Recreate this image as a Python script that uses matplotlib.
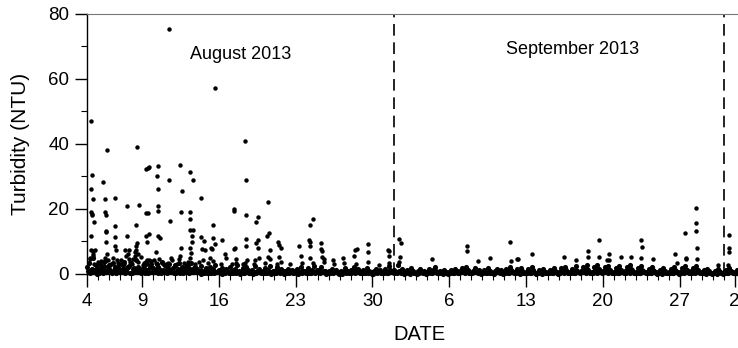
import numpy as np
from matplotlib import pyplot as plt

plt.rcParams['font.family'] = ['Liberation Sans', 'DejaVu Sans']

############################################
################  Data  ####################
############################################
# day offsets are counted from 4 August 2013 00:00

# larger readings (day offset, NTU)
peak_day = [0.40, 0.45, 0.38, 0.55, 0.38, 0.45, 0.48, 0.60, 0.38, 0.40, 0.55, 0.70, 0.30, 0.50,
            1.78, 1.48, 1.67, 1.67, 1.72, 1.75, 1.70, 1.72, 1.62, 1.78,
            2.54, 2.54, 2.57, 2.57, 2.60, 2.70,
            3.60, 3.60, 3.48, 3.80, 3.55, 3.85,
            4.55, 4.75, 4.50, 4.45, 4.55, 4.40, 4.65, 4.50,
            5.40, 5.58, 5.65, 5.35, 5.58, 5.35, 5.62, 5.42, 5.60, 5.50,
            6.46, 6.40, 6.46, 6.44, 6.48, 6.46, 6.62, 6.30,
            7.43, 7.50, 7.52, 7.60, 7.40,
            8.42, 8.66, 8.58, 8.60, 8.35,
            9.36, 9.66, 9.42, 9.42, 9.36, 9.66, 9.60, 9.60, 9.38, 9.36,
            10.40, 10.38, 10.68, 10.48, 10.70,
            11.20, 11.45, 11.45, 11.62, 11.25, 11.35, 11.68,
            12.30, 12.65,
            13.40, 13.40, 13.38, 13.45, 13.55,
            14.37, 14.52, 14.52, 14.52, 14.52, 14.37,
            15.40, 15.60, 15.35, 15.58, 15.60, 15.30,
            16.45, 16.35, 16.60, 16.65, 16.45,
            17.35, 17.45, 17.65, 17.50,
            19.30, 19.48,
            20.26, 20.35, 20.35, 20.35, 20.55, 20.35,
            21.30, 21.30, 21.37, 21.37, 21.55,
            22.40, 23.30,
            24.45, 24.60, 24.35,
            25.60, 25.57,
            27.55, 27.40, 27.55,
            28.45, 28.60, 28.50,
            31.45, 34.60, 34.60, 35.60, 36.75,
            38.50, 38.60, 39.30, 39.20,
            40.50, 43.45, 44.55,
            45.65, 45.65, 46.65, 46.60,
            47.55, 47.55, 47.40, 48.65, 49.55,
            50.45, 50.55, 50.45, 51.55,
            53.60, 53.75,
            54.50, 54.55, 54.55,
            55.50, 55.50, 55.45, 55.60, 55.60,
            57.50,
            58.45, 58.45, 58.45, 58.35]
peak_val = [46.9, 30.4, 26.2, 23.1, 19.0, 18.5, 18.0, 16.0, 11.7, 7.2, 7.0, 7.3, 5.0, 6.0,
            38.2, 28.4, 23.0, 19.0, 18.0, 12.9, 13.1, 9.8, 5.0, 6.0,
            23.4, 14.8, 11.5, 8.5, 7.5, 4.2,
            20.8, 11.6, 7.5, 7.5, 5.5, 4.5,
            38.9, 21.1, 15.0, 8.5, 9.6, 5.5, 6.0, 7.5,
            32.3, 32.6, 32.8, 18.6, 18.6, 11.7, 12.2, 4.4, 4.4, 9.7,
            33.1, 30.2, 26.2, 20.9, 19.4, 11.7, 10.9, 6.6,
            75.3, 29.0, 16.3, 5.0, 3.5,
            33.5, 25.5, 18.9, 7.9, 4.5,
            31.3, 28.9, 18.9, 17.0, 13.6, 13.6, 11.7, 9.8, 8.0, 4.8,
            23.2, 11.4, 10.1, 7.6, 7.4,
            5.0, 15.1, 11.0, 9.1, 8.0, 7.8, 57.1,
            10.5, 4.8,
            19.4, 20.0, 7.6, 8.1, 3.3,
            41.0, 28.9, 18.2, 10.8, 8.5, 3.5,
            16.1, 17.4, 9.5, 10.5, 8.0, 4.3,
            22.0, 11.8, 12.7, 7.3, 5.3,
            9.8, 8.8, 8.0, 5.3,
            8.6, 5.4,
            10.4, 9.7, 8.5, 15.1, 16.9, 4.8,
            9.5, 7.7, 7.0, 5.3, 3.8,
            4.4, 5.0,
            7.4, 7.6, 5.4,
            9.3, 6.6,
            6.9, 7.2, 5.6,
            10.7, 9.6, 5.2,
            4.7, 8.7, 6.9, 4.0, 4.8,
            9.8, 3.9, 4.7, 4.5,
            6.2, 5.1, 4.4,
            7.0, 5.1, 10.5, 5.3,
            6.0, 4.4, 4.4, 5.3, 5.3,
            10.5, 8.2, 4.8, 4.7,
            6.2, 3.3,
            12.5, 5.0, 4.5,
            20.3, 15.6, 13.3, 8.0, 4.5,
            2.8,
            12.0, 8.1, 6.6, 2.8]

# moderate readings (3-7 NTU) sitting just above the dense band
mid_day = [0.20, 0.30, 0.50, 0.65, 0.80, 1.10, 1.30, 1.50, 1.90, 2.20, 2.40, 2.80,
           3.10, 3.40, 3.70, 3.90, 4.20, 4.35, 4.60, 4.90, 5.20, 5.50, 5.80, 6.10,
           6.55, 6.80, 7.20, 7.70, 8.20, 8.50, 8.80, 9.20, 9.50, 9.80, 10.20, 10.55,
           11.05, 11.50, 12.20, 12.55, 13.20, 13.60, 14.20, 14.60, 15.20, 15.70, 16.20, 16.70,
           17.30, 17.70, 18.50, 19.60, 20.60, 21.60, 22.50, 23.40, 24.50, 25.60, 26.60, 27.50,
           28.40, 0.90, 1.00, 2.05, 2.95, 3.25, 4.05, 5.05, 6.25, 7.05, 8.05, 9.05]
mid_val = [3.5, 4.5, 5.5, 3.0, 2.8, 3.2, 4.0, 3.6, 4.4, 3.0, 5.0, 3.4,
           4.2, 3.0, 6.2, 3.6, 4.6, 6.8, 3.8, 5.2, 3.4, 2.9, 3.9, 4.2,
           4.6, 3.2, 3.0, 4.2, 3.1, 5.6, 3.4, 3.8, 6.4, 3.0, 3.6, 4.3,
           3.2, 4.0, 3.0, 6.0, 3.0, 4.6, 2.9, 4.2, 3.1, 5.0, 3.4, 4.6,
           3.0, 3.6, 3.0, 3.4, 3.2, 4.6, 3.0, 3.4, 3.0, 3.6, 2.8, 3.2,
           3.6, 2.6, 3.8, 2.7, 3.1, 2.5, 2.9, 2.6, 3.3, 2.7, 2.5, 2.8]

# background readings, six per day (every 4 h), one row per day
base_val = [
    2.1, 3.4, 1.2, 4.8, 0.6, 2.7,
    1.5, 3.1, 0.8, 2.4, 4.1, 1.0,
    2.6, 0.7, 3.5, 1.8, 0.4, 2.2,
    1.1, 2.9, 3.8, 0.5, 1.7, 2.4,
    3.2, 1.4, 0.6, 4.3, 2.0, 1.1,
    0.8, 2.5, 3.6, 1.3, 0.5, 2.9,
    1.9, 0.6, 3.0, 2.2, 1.0, 3.7,
    0.5, 2.3, 1.2, 3.1, 0.7, 1.8,
    2.6, 1.0, 3.4, 0.4, 2.0, 1.3,
    0.9, 2.8, 1.5, 3.2, 0.6, 2.1,
    1.4, 0.5, 2.3, 1.0, 0.3, 1.8,
    0.8, 2.0, 0.4, 1.5, 2.6, 0.6,
    1.2, 0.3, 1.9, 0.7, 1.4, 0.5,
    2.1, 0.9, 0.4, 1.6, 2.8, 1.0,
    0.6, 1.7, 0.3, 2.2, 1.1, 0.4,
    1.3, 0.5, 2.4, 0.8, 1.6, 0.3,
    0.9, 1.8, 0.4, 1.2, 2.5, 0.6,
    0.4, 1.1, 2.0, 0.5, 1.4, 0.8,
    1.0, 0.3, 1.6, 0.7, 1.2, 0.4,
    0.6, 1.5, 0.3, 2.1, 0.9, 0.5,
    0.8, 1.9, 0.4, 1.3, 2.4, 0.6,
    0.5, 1.2, 2.2, 0.7, 1.0, 0.3,
    0.9, 0.4, 1.6, 0.6, 1.1, 0.3,
    0.3, 1.0, 0.5, 1.8, 0.7, 0.4,
    1.1, 0.5, 2.0, 0.8, 1.4, 0.3,
    0.6, 1.3, 0.4, 1.9, 0.8, 0.5,
    0.4, 0.9, 1.5, 0.5, 1.1, 0.3,
    0.7, 1.6, 0.4, 2.3, 1.0, 0.5,
    1.2, 0.5, 2.6, 0.9, 1.5, 0.4,
    0.5, 1.1, 0.3, 1.7, 0.8, 0.4,
    0.3, 0.8, 1.4, 0.5, 1.0, 0.3,
    0.6, 1.5, 0.4, 1.2, 2.0, 0.5,
    0.4, 0.9, 0.3, 1.3, 0.7, 0.3,
    0.5, 1.2, 0.4, 1.6, 0.8, 0.4,
    0.8, 1.7, 0.5, 2.2, 1.1, 0.4,
    0.4, 1.0, 1.8, 0.6, 1.2, 0.3,
    0.6, 1.3, 0.4, 1.9, 0.9, 0.4,
    0.3, 0.9, 1.5, 0.5, 1.1, 0.3,
    0.7, 1.6, 0.4, 2.1, 1.0, 0.5,
    0.5, 1.4, 0.3, 1.8, 0.8, 0.4,
    0.6, 1.5, 0.4, 2.0, 1.2, 0.3,
    0.4, 1.1, 0.3, 1.6, 0.7, 0.4,
    0.5, 1.3, 0.4, 1.7, 0.9, 0.3,
    0.7, 1.8, 0.5, 2.2, 1.1, 0.4,
    0.6, 1.5, 0.4, 2.4, 1.0, 0.5,
    0.8, 2.0, 0.5, 2.6, 1.3, 0.4,
    0.7, 2.2, 0.6, 2.8, 1.4, 0.5,
    0.9, 2.1, 0.5, 2.5, 1.2, 0.4,
    0.6, 1.9, 0.4, 2.3, 1.1, 0.5,
    0.8, 2.0, 0.5, 2.6, 1.2, 0.4,
    0.7, 1.8, 0.4, 2.4, 1.0, 0.5,
    0.6, 1.6, 0.4, 2.1, 0.9, 0.3,
    0.5, 1.3, 0.3, 1.8, 0.8, 0.4,
    0.6, 1.5, 0.4, 2.0, 1.0, 0.3,
    0.7, 1.7, 0.5, 2.3, 1.1, 0.4,
    0.8, 1.9, 0.5, 2.5, 1.2, 0.4,
    0.5, 1.2, 0.3, 1.6, 0.8, 0.3,
    0.4, 1.0, 0.3, 1.4, 0.7, 0.3,
    0.6, 1.3, 0.4, 1.8, 0.9, 0.4,
    0.5, 1.1, 0.3, 1.5, 0.8, 0.3,
]

# low background readings in between (2 h later), one row per day
low_val = [
    0.9, 0.2, 1.6, 0.5, 1.3, 0.1,
    0.4, 1.8, 0.3, 1.1, 0.6, 2.0,
    1.2, 0.3, 0.8, 2.2, 0.5, 1.0,
    0.6, 1.5, 0.2, 1.2, 2.1, 0.4,
    0.3, 1.9, 1.0, 0.6, 1.4, 0.2,
    1.7, 0.4, 1.1, 0.3, 2.0, 0.7,
    0.5, 1.3, 0.2, 1.6, 0.4, 1.1,
    1.0, 0.3, 1.8, 0.6, 1.3, 0.2,
    0.4, 1.6, 0.7, 1.2, 0.3, 1.9,
    1.3, 0.2, 1.0, 0.5, 1.7, 0.6,
    0.5, 0.9, 0.1, 0.6, 1.0, 0.2,
    0.3, 0.7, 1.1, 0.2, 0.5, 0.9,
    0.6, 0.1, 0.8, 0.4, 1.0, 0.2,
    0.2, 0.6, 1.2, 0.3, 0.7, 0.1,
    0.8, 0.2, 0.5, 1.0, 0.3, 0.6,
    0.1, 0.7, 0.3, 0.9, 0.5, 0.2,
    0.4, 1.0, 0.2, 0.6, 0.1, 0.8,
    0.6, 0.3, 0.9, 0.2, 0.7, 0.1,
    0.2, 0.8, 0.4, 0.6, 0.3, 0.9,
    0.5, 0.1, 0.7, 0.3, 1.0, 0.2,
    0.3, 0.9, 0.2, 0.7, 0.4, 1.1,
    0.7, 0.2, 0.6, 1.0, 0.1, 0.5,
    0.2, 0.6, 0.3, 0.8, 0.5, 0.1,
    0.5, 0.1, 0.7, 0.4, 0.9, 0.2,
    0.3, 0.8, 0.2, 0.6, 1.0, 0.4,
    0.6, 0.2, 0.9, 0.3, 0.5, 0.1,
    0.1, 0.5, 0.3, 0.7, 0.2, 0.6,
    0.4, 0.9, 0.2, 1.1, 0.5, 0.2,
    0.7, 0.3, 1.0, 0.4, 0.8, 0.1,
    0.2, 0.6, 0.1, 0.8, 0.4, 0.2,
    0.1, 0.4, 0.7, 0.2, 0.5, 0.1,
    0.3, 0.8, 0.2, 0.6, 0.9, 0.2,
    0.2, 0.5, 0.1, 0.7, 0.3, 0.1,
    0.3, 0.7, 0.2, 0.8, 0.4, 0.2,
    0.5, 0.9, 0.3, 1.1, 0.6, 0.2,
    0.2, 0.6, 0.9, 0.3, 0.7, 0.1,
    0.3, 0.7, 0.2, 1.0, 0.4, 0.2,
    0.1, 0.5, 0.8, 0.3, 0.6, 0.1,
    0.4, 0.9, 0.2, 1.1, 0.5, 0.3,
    0.3, 0.7, 0.1, 0.9, 0.4, 0.2,
    0.3, 0.8, 0.2, 1.0, 0.6, 0.1,
    0.2, 0.6, 0.1, 0.8, 0.4, 0.2,
    0.3, 0.7, 0.2, 0.9, 0.5, 0.1,
    0.4, 1.0, 0.3, 1.2, 0.6, 0.2,
    0.3, 0.8, 0.2, 1.3, 0.5, 0.3,
    0.5, 1.1, 0.3, 1.4, 0.7, 0.2,
    0.4, 1.2, 0.3, 1.5, 0.8, 0.3,
    0.5, 1.1, 0.3, 1.3, 0.6, 0.2,
    0.3, 1.0, 0.2, 1.2, 0.6, 0.3,
    0.4, 1.1, 0.3, 1.4, 0.7, 0.2,
    0.4, 1.0, 0.2, 1.3, 0.5, 0.3,
    0.3, 0.9, 0.2, 1.1, 0.5, 0.1,
    0.3, 0.7, 0.1, 1.0, 0.4, 0.2,
    0.3, 0.8, 0.2, 1.1, 0.5, 0.1,
    0.4, 0.9, 0.3, 1.2, 0.6, 0.2,
    0.4, 1.0, 0.3, 1.3, 0.6, 0.2,
    0.3, 0.7, 0.1, 0.9, 0.4, 0.1,
    0.2, 0.6, 0.1, 0.8, 0.4, 0.1,
    0.3, 0.7, 0.2, 1.0, 0.5, 0.2,
    0.3, 0.6, 0.1, 0.8, 0.4, 0.1,
]
per_day = 6

tick_days = [0, 5, 12, 19, 26, 33, 40, 47, 54, 59]
tick_labels = ['4', '9', '16', '23', '30', '6', '13', '20', '27', '2']
month_start = [28, 58]          # 1 Sept, 1 Oct
month_names = ['August 2013', 'September 2013']
month_pos = [(14.0, 67.5), (44.2, 69.2)]

############################################
###############  Plot  #####################
############################################
base_day = np.arange(len(base_val)) / per_day
low_day = (np.arange(len(low_val)) + 0.5) / per_day

fig = plt.figure(figsize=(7.38, 3.48), dpi=100)
ax = fig.add_axes([0.118, 0.213, 0.882, 0.747])

# dense background band drawn slightly heavier so it fills in like the original
for xs, ys in [(low_day, low_val), (base_day, base_val)]:
    ax.plot(xs, ys, 'o', color='black', markersize=3.7, markeredgewidth=0, clip_on=False)
for xs, ys in [(mid_day, mid_val), (peak_day, peak_val)]:
    ax.plot(xs, ys, 'o', color='black', markersize=3.2, markeredgewidth=0, clip_on=False)

for d in month_start:
    ax.axvline(d, color='black', linestyle=(0, (7, 4)), linewidth=1.2)

for name, (px, py) in zip(month_names, month_pos):
    ax.text(px, py, name, ha='center', va='center', fontsize=13)

ax.set_xlim(0, 59.3)
ax.set_ylim(0, 80)
ax.set_xticks(tick_days)
ax.set_xticklabels(tick_labels)
ax.set_xticks(np.arange(0, 60), minor=True)
ax.set_yticks([0, 20, 40, 60, 80])
ax.set_yticks([10, 30, 50, 70], minor=True)

ax.tick_params(which='major', direction='out', length=9, width=1.0, labelsize=13.5)
ax.tick_params(axis='x', which='major', pad=5)
ax.tick_params(axis='y', which='major', pad=4)
ax.tick_params(which='minor', direction='out', length=4.5, width=0.8)

ax.spines['right'].set_visible(False)
ax.spines['top'].set_color('#777777')
ax.spines['left'].set_linewidth(1.0)
ax.spines['bottom'].set_linewidth(1.0)

ax.set_ylabel('Turbidity (NTU)', fontsize=15)
ax.yaxis.set_label_coords(-0.087, 0.5)
ax.set_xlabel('DATE', fontsize=14.5)
ax.xaxis.set_label_coords(0.511, -0.195)

fig.savefig('out.png', dpi=100)
